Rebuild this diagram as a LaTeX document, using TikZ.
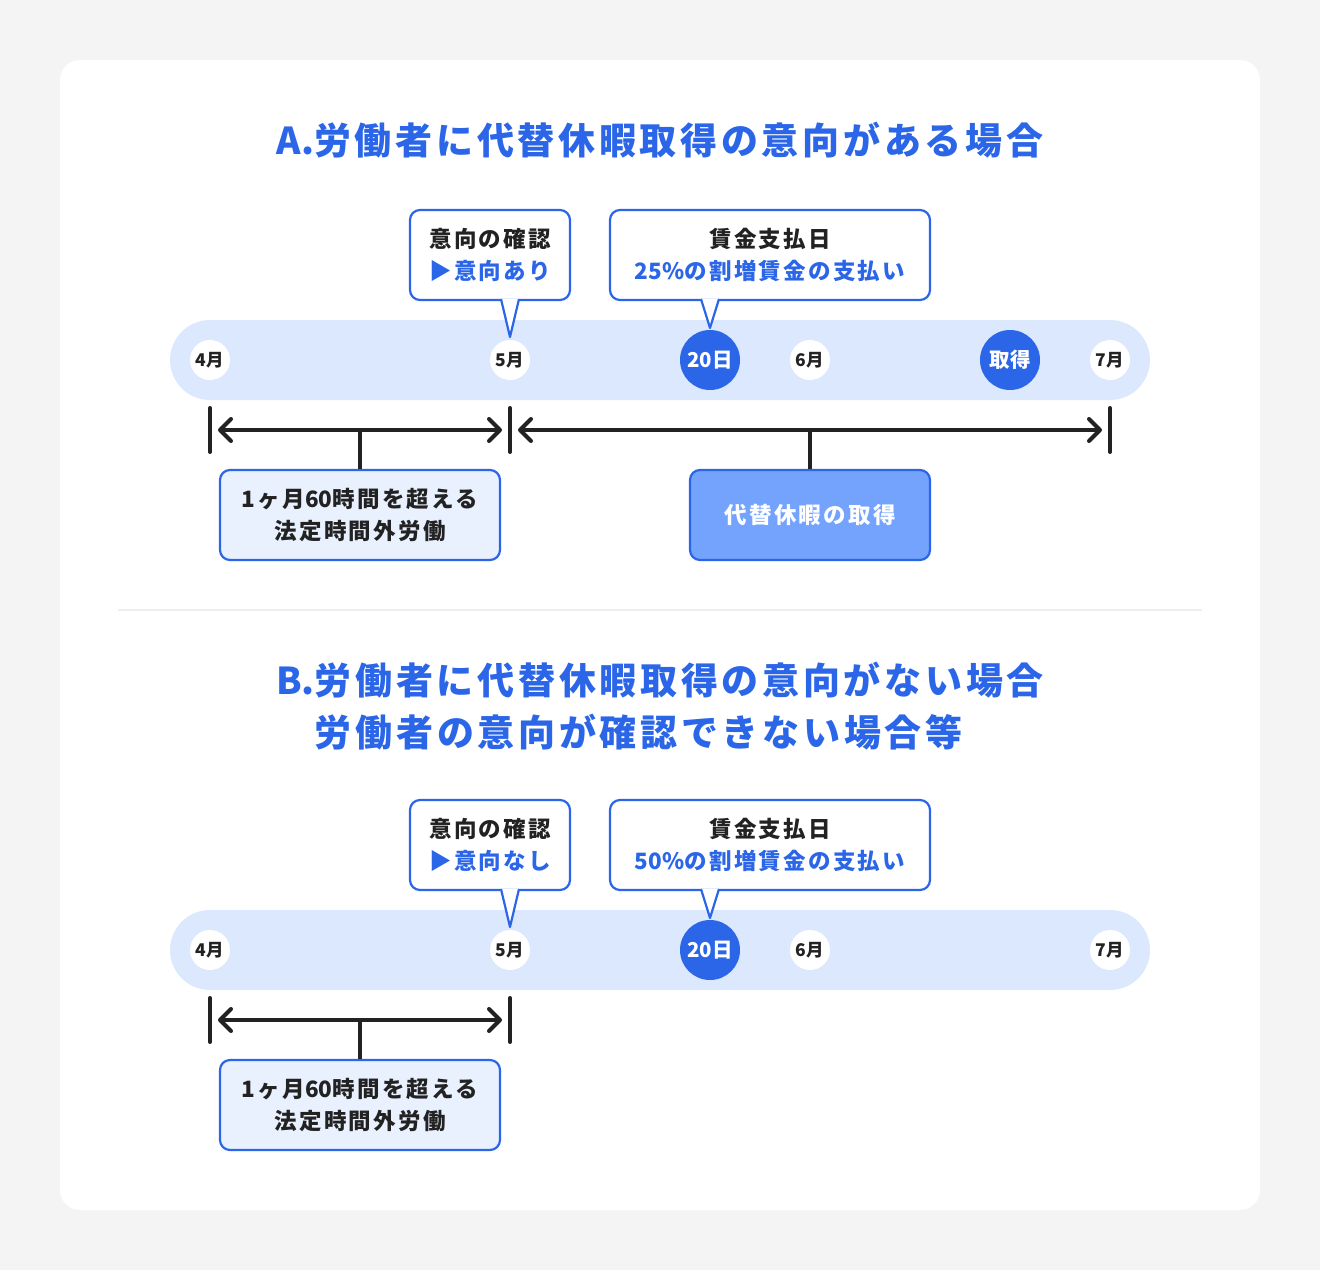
\documentclass[tikz,border=0pt]{standalone}
\usepackage{fontspec}
\setmainfont{Noto Sans CJK JP}[LetterSpace=10]
\newfontfamily\tight{Noto Sans CJK JP}
\usetikzlibrary{arrows.meta}

\definecolor{mainblue}{HTML}{2B66E8}
\definecolor{bandblue}{HTML}{DCE8FD}
\definecolor{paleblue}{HTML}{EAF1FE}
\definecolor{midblue}{HTML}{73A3FC}
\definecolor{pagegray}{HTML}{F5F4F5}
\definecolor{rulegray}{HTML}{EEEEEE}
\definecolor{inkdark}{HTML}{222222}

\tikzset{
  heading/.style={text=mainblue, font=\fontsize{37}{52}\selectfont\bfseries},
  callout/.style={draw=mainblue, line width=2.2pt, fill=white, rounded corners=10pt,
    minimum height=90pt, inner sep=0pt, align=center, text=inkdark,
    font=\fontsize{22.5}{32}\selectfont\bfseries},
  pointer/.style={draw=mainblue, fill=white, line width=2.2pt, line join=round},
  month/.style={circle, fill=white, minimum size=40pt, inner sep=0pt, text=inkdark,
    font=\tight\fontsize{17.5}{17}\selectfont\bfseries},
  daymark/.style={circle, fill=mainblue, minimum size=60pt, inner sep=0pt, text=white,
    font=\tight\fontsize{20.5}{20}\selectfont\bfseries},
  span/.style={draw=inkdark, line width=4pt,
    {Straight Barb[length=11pt, width=22pt, line cap=round, line join=round]}-{Straight Barb[length=11pt, width=22pt, line cap=round, line join=round]},
    shorten <=8pt, shorten >=8pt},
  endbar/.style={draw=inkdark, line width=4pt, line cap=round},
  stem/.style={draw=inkdark, line width=4pt},
  notebox/.style={draw=mainblue, line width=2.2pt, rounded corners=10pt, minimum height=90pt,
    inner sep=0pt, align=center, font=\fontsize{22.5}{32}\selectfont\bfseries}
}

\begin{document}
\begin{tikzpicture}[x=1pt, y=-1pt]
    \useasboundingbox (0,0) rectangle (1320,1270);
    \fill[pagegray] (0,0) rectangle (1320,1270);
    \fill[white, rounded corners=20pt] (60,60) rectangle (1260,1210);

    % case A
    \node[heading] (titleA) at (660,140) {{\tight A.}労働者に代替休暇取得の意向がある場合};

    \fill[bandblue, rounded corners=40pt] (170,320) rectangle (1150,400);
    \node[month] (m4) at (210,360) {4月};
    \node[month] (m5) at (510,360) {5月};
    \node[daymark] (pay) at (710,360) {20日};
    \node[month] (m6) at (810,360) {6月};
    \node[daymark] (take) at (1010,360) {取得};
    \node[month] (m7) at (1110,360) {7月};

    \node[callout, minimum width=160pt] (ask) at (490,255) {意向の確認\\\textcolor{mainblue}{▶意向あり}};
    \node[callout, minimum width=320pt] (wage) at (770,255) {賃金支払日\\\textcolor{mainblue}{{\tight 25\%}の割増賃金の支払い}};
    \coordinate (askTip) at (510,337);
    \coordinate (wageTip) at (710,328);
    \path[pointer] (501,299) -- (askTip) -- (519,299);
    \path[pointer] (701,299) -- (wageTip) -- (719,299);

    \coordinate (a4) at (210,430);
    \coordinate (a5) at (510,430);
    \coordinate (a7) at (1110,430);
    \draw[endbar] ([yshift=22pt]a4) -- ([yshift=-22pt]a4);
    \draw[endbar] ([yshift=22pt]a5) -- ([yshift=-22pt]a5);
    \draw[endbar] ([yshift=22pt]a7) -- ([yshift=-22pt]a7);
    \draw[span] (a4) -- (a5);
    \draw[span] (a5) -- (a7);

    \node[notebox, fill=paleblue, text=inkdark, minimum width=280pt] (over) at (360,515) {1ヶ月{\tight 60}時間を超える\\法定時間外労働};
    \node[notebox, fill=midblue, text=white, minimum width=240pt] (rest) at (810,515) {代替休暇の取得};
    \draw[stem] (over.north |- a4) -- (over.north);
    \draw[stem] (rest.north |- a4) -- (rest.north);

    \draw[rulegray, line width=2pt] (118,610) -- (1202,610);

    % case B
    \node[heading, align=left] (titleB) at (660,706) {{\tight B.}労働者に代替休暇取得の意向がない場合\\\phantom{\tight B.}労働者の意向が確認できない場合等};

    \fill[bandblue, rounded corners=40pt] (170,910) rectangle (1150,990);
    \node[month] (n4) at (210,950) {4月};
    \node[month] (n5) at (510,950) {5月};
    \node[daymark] (payB) at (710,950) {20日};
    \node[month] (n6) at (810,950) {6月};
    \node[month] (n7) at (1110,950) {7月};

    \node[callout, minimum width=160pt] (askB) at (490,845) {意向の確認\\\textcolor{mainblue}{▶意向なし}};
    \node[callout, minimum width=320pt] (wageB) at (770,845) {賃金支払日\\\textcolor{mainblue}{{\tight 50\%}の割増賃金の支払い}};
    \coordinate (askTipB) at (510,927);
    \coordinate (wageTipB) at (710,918);
    \path[pointer] (501,889) -- (askTipB) -- (519,889);
    \path[pointer] (701,889) -- (wageTipB) -- (719,889);

    \coordinate (b4) at (210,1020);
    \coordinate (b5) at (510,1020);
    \draw[endbar] ([yshift=22pt]b4) -- ([yshift=-22pt]b4);
    \draw[endbar] ([yshift=22pt]b5) -- ([yshift=-22pt]b5);
    \draw[span] (b4) -- (b5);

    \node[notebox, fill=paleblue, text=inkdark, minimum width=280pt] (overB) at (360,1105) {1ヶ月{\tight 60}時間を超える\\法定時間外労働};
    \draw[stem] (overB.north |- b4) -- (overB.north);
\end{tikzpicture}
\end{document}
